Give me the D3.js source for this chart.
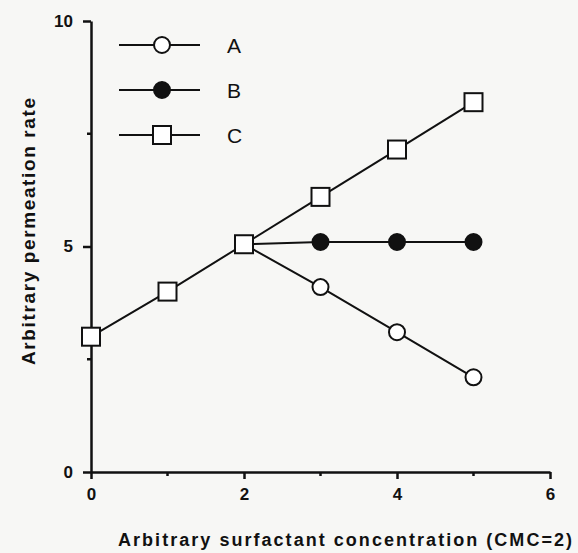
<!DOCTYPE html>
<html><head><meta charset="utf-8">
<script src="https://cdn.jsdelivr.net/npm/d3@7"></script>
<style>html,body{margin:0;padding:0;background:#f7f7f5;}svg{display:block;}</style>
</head><body>
<svg id="c" width="578" height="553"></svg>
<script>
const xShared = [0, 1, 2];
const yShared = [3, 4, 5.05];
const xBranch = [2, 3, 4, 5];
const seriesA = [5.05, 4.1, 3.1, 2.1];
const seriesB = [5.05, 5.1, 5.1, 5.1];
const seriesC = [5.05, 6.1, 7.15, 8.2];
const legendLabels = ["A", "B", "C"];
const xTicksMajor = [0, 2, 4, 6];
const xTicksMinor = [1, 3, 5];
const yTicksMajor = [0, 5, 10];
const yTicksMinor = [2.5, 7.5];
const xTitle = "Arbitrary surfactant concentration (CMC=2)";
const yTitle = "Arbitrary permeation rate";

const svg = d3.select("#c");
const x = d3.scaleLinear().domain([0, 6]).range([91, 550]);
const y = d3.scaleLinear().domain([0, 10]).range([472, 21]);
const ink = "#111";
const font = "Liberation Sans, Arial, sans-serif";

// axes
const xAxis = d3.axisBottom(x).tickValues(xTicksMajor).tickSize(7).tickSizeOuter(0).tickPadding(9).tickFormat(d3.format("d"));
const gx = svg.append("g").attr("transform", `translate(0,${y(0)})`).call(xAxis);
gx.select(".domain").attr("stroke", ink).attr("stroke-width", 2.5);
gx.selectAll(".tick line").attr("stroke", ink).attr("stroke-width", 2.5);
gx.selectAll(".tick text").attr("font-family", font).attr("font-weight", "bold").attr("font-size", 17).attr("fill", ink);
gx.selectAll(".minor").data(xTicksMinor).enter().append("line")
  .attr("x1", d => x(d)).attr("x2", d => x(d)).attr("y1", 0).attr("y2", 4)
  .attr("stroke", ink).attr("stroke-width", 2.5);

const yAxis = d3.axisLeft(y).tickValues(yTicksMajor).tickSize(8).tickSizeOuter(0).tickPadding(10).tickFormat(d3.format("d"));
const gy = svg.append("g").attr("transform", `translate(${x(0)},0)`).call(yAxis);
gy.select(".domain").attr("stroke", ink).attr("stroke-width", 2.5);
gy.selectAll(".tick line").attr("stroke", ink).attr("stroke-width", 2.5);
gy.selectAll(".tick text").attr("font-family", font).attr("font-weight", "bold").attr("font-size", 17).attr("fill", ink);
gy.selectAll(".minor").data(yTicksMinor).enter().append("line")
  .attr("x1", 0).attr("x2", -4).attr("y1", d => y(d)).attr("y2", d => y(d))
  .attr("stroke", ink).attr("stroke-width", 2.5);

// titles
svg.append("text").attr("x", 118).attr("y", 546)
  .attr("font-family", font).attr("font-weight", "bold").attr("font-size", 18)
  .attr("textLength", 454).attr("lengthAdjust", "spacing")
  .attr("fill", ink).text(xTitle);
svg.append("text").attr("transform", "translate(35,365) rotate(-90)")
  .attr("font-family", font).attr("font-weight", "bold").attr("font-size", 19)
  .attr("textLength", 267).attr("lengthAdjust", "spacing")
  .attr("fill", ink).text(yTitle);

// lines
const line = d3.line().x(d => x(d[0])).y(d => y(d[1]));
const shared = xShared.map((v, i) => [v, yShared[i]]);
const A = xBranch.map((v, i) => [v, seriesA[i]]);
const B = xBranch.map((v, i) => [v, seriesB[i]]);
const C = xBranch.map((v, i) => [v, seriesC[i]]);
[shared, A, B, C].forEach(d => svg.append("path").datum(d).attr("d", line)
  .attr("fill", "none").attr("stroke", ink).attr("stroke-width", 2));

const r = 8, s = 18;
function circles(data, fill) {
  svg.selectAll(null).data(data.slice(1)).enter().append("circle")
    .attr("cx", d => x(d[0])).attr("cy", d => y(d[1])).attr("r", r)
    .attr("fill", fill).attr("stroke", ink).attr("stroke-width", 2);
}
function squares(data) {
  svg.selectAll(null).data(data).enter().append("rect")
    .attr("x", d => x(d[0]) - s / 2).attr("y", d => y(d[1]) - s / 2)
    .attr("width", s).attr("height", s)
    .attr("fill", "#fff").attr("stroke", ink).attr("stroke-width", 2);
}
circles(A, "#fff");
circles(B, ink);
squares(shared.concat(C.slice(1)));

// legend
const legY = [45, 90, 135];
legendLabels.forEach((lab, i) => {
  const g = svg.append("g");
  g.append("line").attr("x1", 119).attr("x2", 200).attr("y1", legY[i]).attr("y2", legY[i])
    .attr("stroke", ink).attr("stroke-width", 2);
  if (i === 2) {
    g.append("rect").attr("x", 162 - s / 2).attr("y", legY[i] - s / 2).attr("width", s).attr("height", s)
      .attr("fill", "#fff").attr("stroke", ink).attr("stroke-width", 2);
  } else {
    g.append("circle").attr("cx", 162).attr("cy", legY[i]).attr("r", r)
      .attr("fill", i === 0 ? "#fff" : ink).attr("stroke", ink).attr("stroke-width", 2);
  }
  g.append("text").attr("x", 227).attr("y", legY[i] + 8)
    .attr("font-family", font).attr("font-size", 21).attr("fill", ink).text(lab);
});
</script>
</body></html>
